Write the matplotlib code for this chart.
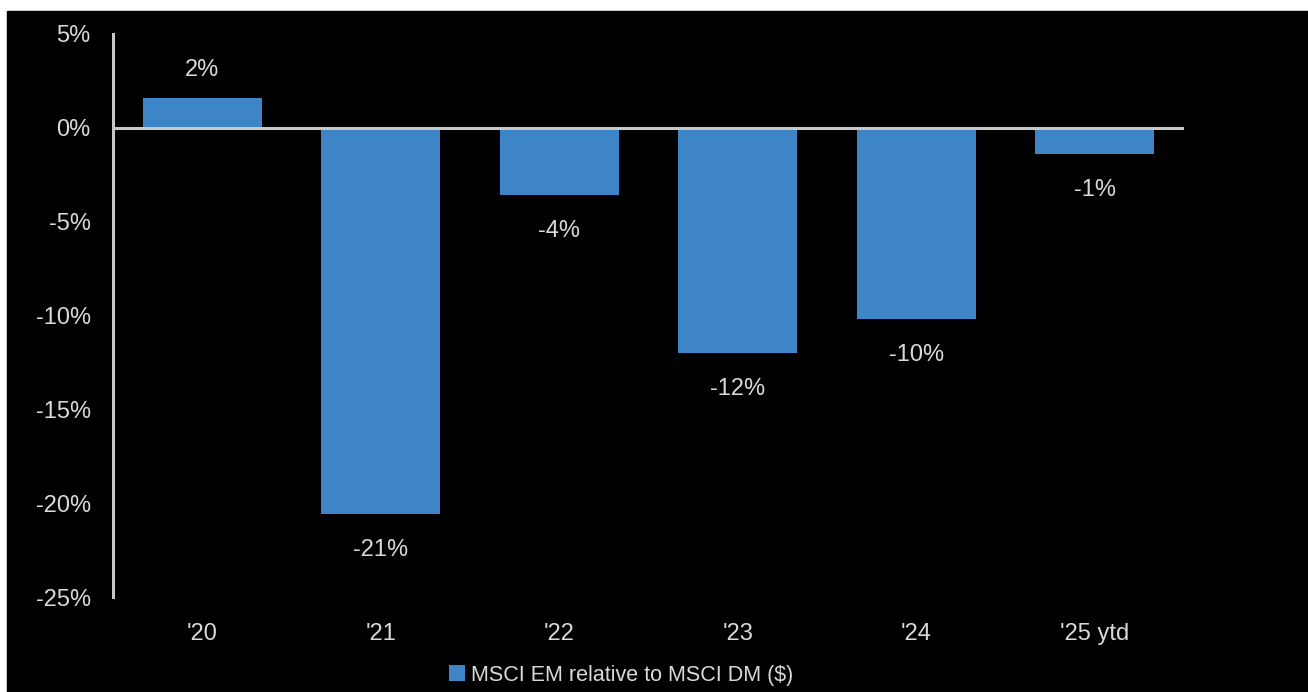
import matplotlib.pyplot as plt
from matplotlib.patches import Rectangle
from matplotlib.ticker import FuncFormatter

years = ["'20", "'21", "'22", "'23", "'24", "'25 ytd"]
em_vs_dm = [1.6, -20.6, -3.6, -12.0, -10.2, -1.4]
yticks = [5, 0, -5, -10, -15, -20, -25]

bar_color = '#3d85c6'
text_color = '#d9d9d9'
line_color = '#c8c8c8'

plt.rcParams['font.family'] = ['Liberation Sans Narrow', 'Liberation Sans', 'DejaVu Sans']

W, H = 1308, 692
fig = plt.figure(figsize=(W / 100, H / 100), dpi=100, facecolor='white')
fig.patches.append(Rectangle((7 / W, 0), 1 - 7 / W, 1 - 11 / H,
                             transform=fig.transFigure, color='black', zorder=-10))

ax = fig.add_axes([113 / W, 1 - 597 / H, (1184 - 113) / W, (597 - 34) / H])
ax.set_facecolor('black')

x = range(len(years))
ax.bar(x, em_vs_dm, width=0.667, color=bar_color, zorder=2,
       label='MSCI EM relative to MSCI DM ($)')
ax.axhline(0, color=line_color, lw=2.2, zorder=3)

# value labels above / below each bar
for i, v in enumerate(em_vs_dm):
    off = 12 if v >= 0 else -18
    ax.annotate(f'{v:.0f}%', (i, v), xytext=(0, off), textcoords='offset points',
                ha='center', va='bottom' if v >= 0 else 'top',
                color=text_color, fontsize=17)

ax.set_xlim(-0.5, 5.5)
ax.set_ylim(-25, 5)
ax.set_xticks(list(x))
ax.set_xticklabels(years)
ax.set_yticks(yticks)
ax.yaxis.set_major_formatter(FuncFormatter(lambda v, p: f'{v:.0f}%'))
ax.tick_params(length=0, colors=text_color, labelsize=17)
ax.tick_params(axis='y', pad=16)
ax.tick_params(axis='x', pad=19)

for s in ['top', 'right', 'bottom']:
    ax.spines[s].set_visible(False)
ax.spines['left'].set_color(line_color)
ax.spines['left'].set_linewidth(2.2)

leg = ax.legend(loc='center', bbox_to_anchor=(621 / W, 1 - 675 / H),
                bbox_transform=fig.transFigure, frameon=False,
                fontsize=15.5, handlelength=0.75, handleheight=0.75,
                handletextpad=0.25, labelcolor=text_color)

fig.savefig('out.png', dpi=100, facecolor=fig.get_facecolor())
